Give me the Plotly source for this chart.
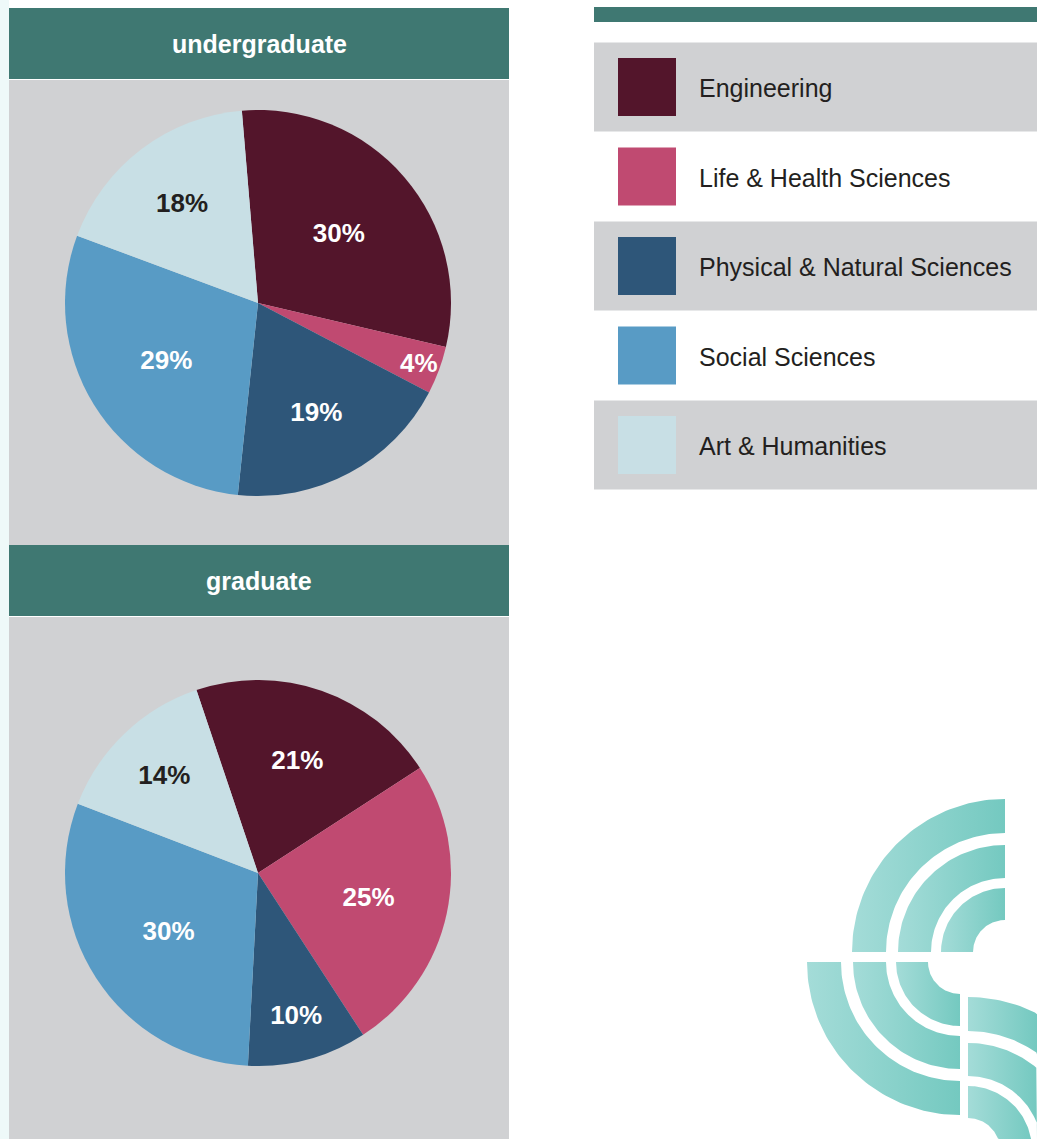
import numpy as np
import plotly.graph_objects as go

# ---------------- data ----------------
categories = ["Engineering", "Life & Health Sciences", "Physical & Natural Sciences",
              "Social Sciences", "Art & Humanities"]
undergraduate_pct = [30, 4, 19, 29, 18]
graduate_pct = [21, 25, 10, 30, 14]
panel_titles = ["undergraduate", "graduate"]

# ---------------- style ----------------
W, H = 1037, 1139
colors = ["#53152B", "#C04A71", "#2E5679", "#589BC5", "#C8DFE5"]
label_colors = ["#FFFFFF", "#FFFFFF", "#FFFFFF", "#FFFFFF", "#231F20"]
TEAL = "#3F7872"
GRAY = "#D0D1D3"
FONT = "Liberation Sans, Arial, Helvetica, sans-serif"

fig = go.Figure()

def px_domain(cx, cy, r):
    return dict(x=[(cx - r) / W, (cx + r) / W], y=[(H - cy - r) / H, (H - cy + r) / H])

pies = [(undergraduate_pct, 258, 303, -4.8), (graduate_pct, 258, 873, -18.6)]
for vals, cx, cy, rot in pies:
    fig.add_trace(go.Pie(
        labels=categories, values=vals, sort=False, direction="clockwise", rotation=rot,
        marker=dict(colors=colors, line=dict(width=0)),
        text=[f"{v}%" for v in vals], textinfo="text", textposition="inside",
        insidetextorientation="horizontal",
        textfont=dict(family=FONT, size=26, color=label_colors, weight="bold"),
        domain=px_domain(cx, cy, 193), showlegend=False, hoverinfo="label+percent",
    ))

# ---------------- decorative logo (gradient arcs) ----------------
def sector(cx, cy, r0, r1, a0, a1, n=60):
    a = np.radians(np.linspace(a0, a1, n))
    xo = cx + r1 * np.cos(a); yo = cy - r1 * np.sin(a)
    xi = cx + r0 * np.cos(a[::-1]); yi = cy - r0 * np.sin(a[::-1])
    xs = np.concatenate([xo, xi, xo[:1]]); ys = np.concatenate([yo, yi, yo[:1]])
    xs = np.clip(xs, None, W); ys = np.clip(ys, None, H)
    return xs, ys

bands = [(32, 64), (74, 107), (119, 153)]
grad = dict(type="horizontal", colorscale=[[0, "#A4DCD8"], [1, "#74C9C0"]])
logo_parts = [(1005, 952, 90, 180), (960, 962, 180, 270), (968, 1150, 0, 90)]
for cx, cy, a0, a1 in logo_parts:
    for r0, r1 in bands:
        xs, ys = sector(cx, cy, r0, r1, a0, a1)
        fig.add_trace(go.Scatter(x=xs, y=ys, mode="lines", fill="toself",
                                 line=dict(width=0), fillgradient=grad,
                                 hoverinfo="skip", showlegend=False))

# ---------------- panels ----------------
shapes = []
annotations = []
shapes.append(dict(type="rect", x0=0, x1=9, y0=0, y1=H, fillcolor="#EEF9F9", line_width=0, layer="below"))
panel_rows = [(8, 79, 80, 545), (545, 616, 617, H)]
for (hy0, hy1, py0, py1), title in zip(panel_rows, panel_titles):
    shapes.append(dict(type="rect", x0=9, x1=509, y0=hy0, y1=hy1, fillcolor=TEAL, line_width=0, layer="below"))
    shapes.append(dict(type="rect", x0=9, x1=509, y0=py0, y1=py1, fillcolor=GRAY, line_width=0, layer="below"))
    annotations.append(dict(x=259, y=(hy0 + hy1) / 2, xref="x", yref="y", text=f"<b>{title}</b>",
                            showarrow=False, font=dict(family=FONT, size=25, color="white"),
                            xanchor="center", yanchor="middle"))

# ---------------- legend ----------------
shapes.append(dict(type="rect", x0=594, x1=W, y0=7, y1=22, fillcolor=TEAL, line_width=0, layer="below"))
for i, (cat, col) in enumerate(zip(categories, colors)):
    yc = 87 + 89.5 * i
    if i % 2 == 0:
        shapes.append(dict(type="rect", x0=594, x1=W, y0=yc - 44.5, y1=yc + 44.5,
                           fillcolor=GRAY, line_width=0, layer="below"))
    shapes.append(dict(type="rect", x0=618, x1=676, y0=yc - 29, y1=yc + 29,
                       fillcolor=col, line_width=0, layer="below"))
    annotations.append(dict(x=697, y=yc + 1, xref="x", yref="y", text=cat, showarrow=False,
                            font=dict(family=FONT, size=25, color="#231F20"),
                            xanchor="left", yanchor="middle"))

fig.update_layout(
    width=W, height=H, margin=dict(l=0, r=0, t=0, b=0),
    paper_bgcolor="white", plot_bgcolor="rgba(0,0,0,0)",
    xaxis=dict(range=[0, W], visible=False, fixedrange=True, domain=[0, 1]),
    yaxis=dict(range=[H, 0], visible=False, fixedrange=True, domain=[0, 1]),
    shapes=shapes, annotations=annotations,
    uniformtext=dict(minsize=26, mode="show"),
    showlegend=False,
)

fig.write_html(
    "out.html",
    config={"displayModeBar": False},
    post_script="document.body.style.margin='0';document.body.style.overflow='hidden';",
)
